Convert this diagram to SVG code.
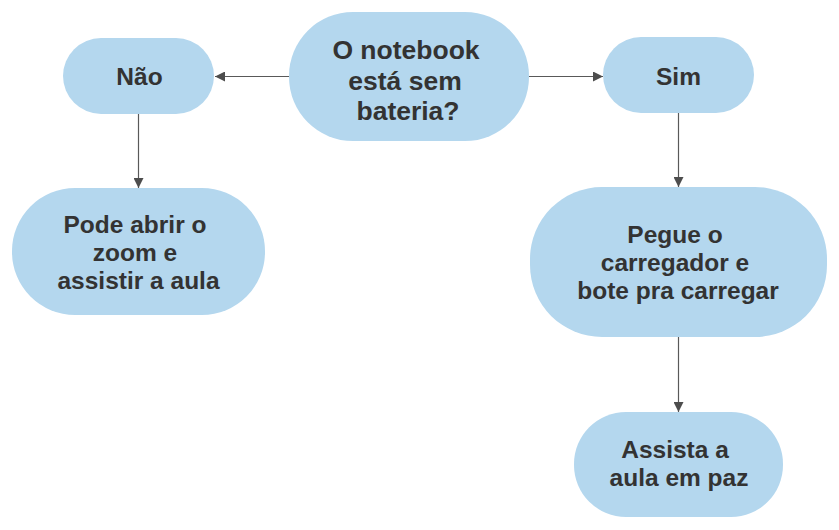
<svg xmlns="http://www.w3.org/2000/svg" width="839" height="530" viewBox="0 0 839 530">
<style>
.n{fill:#b4d7ee;stroke:none}
.t{font-family:"Liberation Sans",Arial,sans-serif;font-weight:bold;fill:#333333;text-anchor:middle;font-size:24.5px}
.tb{font-size:26.5px}
.c{stroke:#595959;stroke-width:1.2;fill:none;marker-end:url(#ah)}
</style>
<defs>
<marker id="ah" viewBox="0 0 10 10" refX="10" refY="5" markerWidth="10" markerHeight="10" markerUnits="userSpaceOnUse" orient="auto">
<path d="M0,0 L10,5 L0,10 z" fill="#4d4d4d"/>
</marker>
</defs>
<rect width="839" height="530" fill="#ffffff"/>
<g id="connectors">
<line class="c" x1="289" y1="76.5" x2="215" y2="76.5"/>
<line class="c" x1="529" y1="76.5" x2="603" y2="76.5"/>
<line class="c" x1="138.5" y1="114" x2="138.5" y2="188"/>
<line class="c" x1="678.5" y1="113" x2="678.5" y2="187"/>
<line class="c" x1="678.5" y1="337" x2="678.5" y2="412"/>
</g>
<g id="q">
<rect class="n" x="289" y="12" width="240" height="129" rx="64" ry="64"/>
<text class="t tb"><tspan x="406" y="59">O notebook</tspan><tspan x="405" y="90">está sem</tspan><tspan x="408" y="120">bateria?</tspan></text>
</g>
<g id="nao">
<rect class="n" x="63" y="38" width="151" height="76" rx="38" ry="38"/>
<text class="t" x="139.5" y="85">Não</text>
</g>
<g id="sim">
<rect class="n" x="603" y="37" width="151" height="76" rx="38" ry="38"/>
<text class="t" x="678.5" y="85">Sim</text>
</g>
<g id="zoom">
<rect class="n" x="12" y="188" width="253" height="127" rx="63" ry="63"/>
<text class="t"><tspan x="135" y="233">Pode abrir o</tspan><tspan x="135" y="261">zoom e</tspan><tspan x="138.5" y="289">assistir a aula</tspan></text>
</g>
<g id="pegue">
<rect class="n" x="530" y="187" width="297" height="150" rx="72" ry="72"/>
<text class="t"><tspan x="675" y="243">Pegue o</tspan><tspan x="675" y="271">carregador e</tspan><tspan x="678" y="299">bote pra carregar</tspan></text>
</g>
<g id="assista">
<rect class="n" x="574" y="412" width="209" height="105" rx="52" ry="52"/>
<text class="t"><tspan x="675" y="458">Assista a</tspan><tspan x="679" y="486">aula em paz</tspan></text>
</g>
</svg>
